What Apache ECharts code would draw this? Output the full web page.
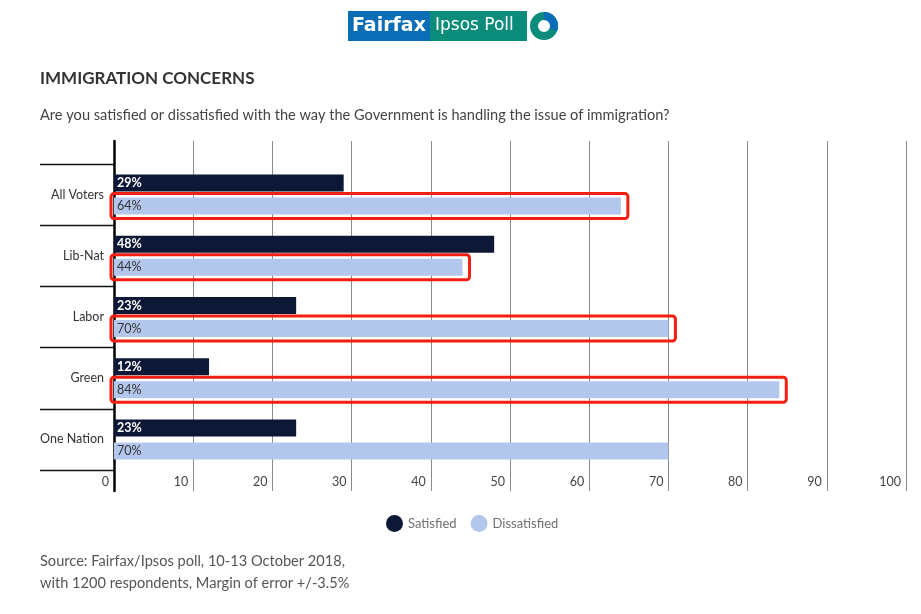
<!DOCTYPE html>
<html>
<head>
<meta charset="utf-8">
<script src="https://cdn.jsdelivr.net/npm/echarts@6/dist/echarts.min.js"></script>
<style>
html,body{margin:0;padding:0;background:#fff;}
#chart{width:921px;height:614px;}
</style>
</head>
<body>
<div id="chart"></div>
<script>
// poll data
var groups = ['All Voters', 'Lib-Nat', 'Labor', 'Green', 'One Nation'];
var satisfied = [29, 48, 23, 12, 23];
var dissatisfied = [64, 44, 70, 84, 70];
// groups circled in red on the original
var circled = ['All Voters', 'Lib-Nat', 'Labor', 'Green'];
var xTicks = [0, 10, 20, 30, 40, 50, 60, 70, 80, 90, 100];

var FONT = 'Lato, "Noto Sans", sans-serif';
var BAR_W = 17;
var BAR_GAP = 6;

(function(){
	var chart = echarts.init(document.getElementById('chart'));

	var boxData = [];
	circled.forEach(function(name){
		var i = groups.indexOf(name);
		boxData.push([i, dissatisfied[i]]);
	});

	option = {
		animation: false,
		textStyle: {fontFamily: FONT},
		title: [
			{
				text: 'IMMIGRATION CONCERNS',
				left: 40, top: 70, padding: 0,
				textStyle: {fontFamily: FONT, fontSize: 17, fontWeight: 'bold', color: '#333'}
			},
			{
				text: 'Are you satisfied or dissatisfied with the way the Government is handling the issue of immigration?',
				left: 40, top: 108, padding: 0,
				textStyle: {fontFamily: FONT, fontSize: 14.6, fontWeight: 'normal', color: '#444'}
			},
			{
				text: 'Source: Fairfax/Ipsos poll, 10-13 October 2018,\nwith 1200 respondents, Margin of error +/-3.5%',
				left: 40, top: 550, padding: 0,
				textStyle: {fontFamily: FONT, fontSize: 14.6, fontWeight: 'normal', color: '#555', lineHeight: 22}
			}
		],
		legend: {
			left: 386, top: 515, padding: 0,
			icon: 'circle',
			itemWidth: 17, itemHeight: 17,
			itemGap: 14,
			textStyle: {fontFamily: FONT, fontSize: 13, color: '#707070'},
			data: ['Satisfied', 'Dissatisfied']
		},
		graphic: [
			{type: 'rect', shape: {x: 348, y: 11, width: 82, height: 30}, style: {fill: '#0b6db5'}},
			{type: 'rect', shape: {x: 430, y: 11, width: 97, height: 30}, style: {fill: '#0b8c7b'}},
			{type: 'text', x: 352, y: 26, style: {text: 'Fairfax', fill: '#fff', font: 'bold 19px "DejaVu Sans"', verticalAlign: 'middle'}},
			{type: 'text', x: 435, y: 26, style: {text: 'Ipsos Poll', fill: '#fff', font: '17px "DejaVu Sans"', verticalAlign: 'middle'}},
			{type: 'sector', shape: {cx: 544, cy: 26, r: 14, r0: 0, startAngle: 0, endAngle: Math.PI * 2}, style: {fill: '#0b8c7b'}},
			{type: 'sector', shape: {cx: 544, cy: 26, r: 14, r0: 0, startAngle: -Math.PI / 2, endAngle: Math.PI / 8}, style: {fill: '#0b6db5'}},
			{type: 'circle', shape: {cx: 544, cy: 26, r: 6}, style: {fill: '#fff'}}
		],
		grid: [
			{left: 114, right: 15, top: 164, bottom: 144},
			{left: 114, right: 15, top: 141, bottom: 123}
		],
		xAxis: [
			{
				gridIndex: 0, type: 'value', min: 0, max: 100, interval: 10,
				axisLine: {show: false}, axisTick: {show: false},
				axisLabel: {show: false}, splitLine: {show: false}
			},
			{
				gridIndex: 1, type: 'value', min: 0, max: 100, interval: 10,
				axisLine: {show: false}, axisTick: {show: false},
				axisLabel: {
					inside: true, margin: 3, align: 'right',
					padding: [0, 5, 0, 0],
					fontFamily: FONT, fontSize: 12.5, color: '#444'
				},
				splitLine: {show: true, lineStyle: {color: '#8a8a8a', width: 1}}
			}
		],
		yAxis: [
			{
				gridIndex: 0, type: 'category', inverse: true,
				data: groups,
				axisLine: {show: false},
				axisTick: {show: true, length: 74, lineStyle: {color: '#111', width: 1.3}},
				axisLabel: {margin: 10, fontFamily: FONT, fontSize: 12.5, color: '#333'}
			},
			{
				gridIndex: 1, type: 'value', min: 0, max: 1,
				axisLine: {show: true, lineStyle: {color: '#000', width: 2.5}},
				axisTick: {show: false}, axisLabel: {show: false}, splitLine: {show: false}
			}
		],
		series: [
			{
				name: 'Satisfied',
				type: 'bar',
				xAxisIndex: 0, yAxisIndex: 0,
				barWidth: BAR_W,
				barGap: (BAR_GAP / BAR_W * 100) + '%',
				itemStyle: {color: '#0d1836'},
				label: {
					show: true, position: 'insideLeft', distance: 3,
					formatter: '{c}%', color: '#fff', fontWeight: 'bold',
					fontFamily: FONT, fontSize: 12.5
				},
				data: satisfied
			},
			{
				name: 'Dissatisfied',
				type: 'bar',
				xAxisIndex: 0, yAxisIndex: 0,
				barWidth: BAR_W,
				itemStyle: {color: '#b3c7ed'},
				label: {
					show: true, position: 'insideLeft', distance: 3,
					formatter: '{c}%', color: '#333',
					fontFamily: FONT, fontSize: 12.5
				},
				data: dissatisfied
			},
			{
				// red boxes drawn round the dissatisfied bars
				type: 'custom',
				xAxisIndex: 0, yAxisIndex: 0,
				encode: {x: 1, y: 0},
				clip: false,
				z: 5,
				renderItem: function(params, api){
					var idx = api.value(0);
					var start = api.coord([0, idx]);
					var end = api.coord([api.value(1), idx]);
					var cy = start[1] + (BAR_W + BAR_GAP) / 2;
					return {
						type: 'rect',
						shape: {
							x: start[0] - 3,
							y: cy - BAR_W / 2 - 4,
							width: end[0] - start[0] + 10,
							height: BAR_W + 8,
							r: 3
						},
						style: {fill: 'none', stroke: '#f21f12', lineWidth: 3}
					};
				},
				data: boxData
			}
		]
	};

	chart.setOption(option);
})();
</script>
</body>
</html>
